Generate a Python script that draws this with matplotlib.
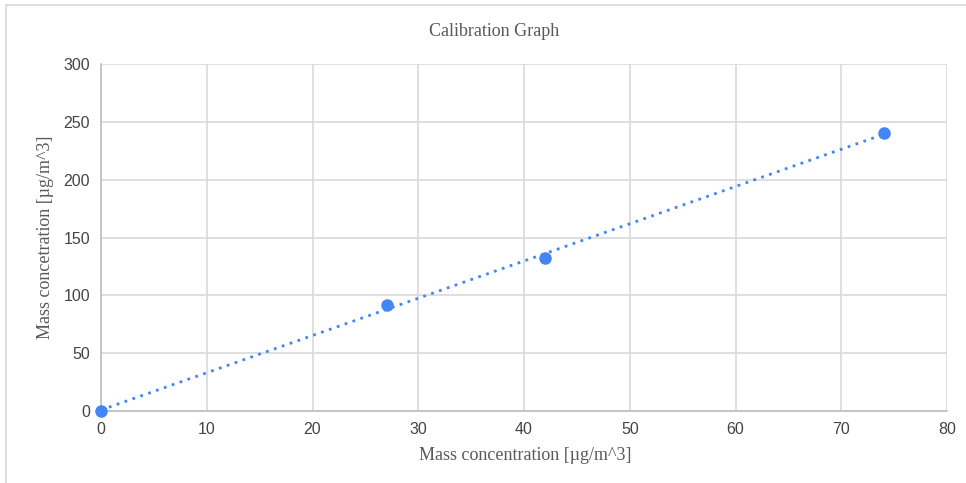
import numpy as np
import matplotlib
matplotlib.use("Agg")
import matplotlib.pyplot as plt
from matplotlib.patches import Rectangle

x_vals = [0, 27, 42, 74]
y_vals = [0, 92, 132, 240]
x_ticks = [0, 10, 20, 30, 40, 50, 60, 70, 80]
y_ticks = [0, 50, 100, 150, 200, 250, 300]
title = "Calibration Graph"
x_label = "Mass concentration [µg/m^3]"
y_label = "Mass concetration [µg/m^3]"

W, H = 966, 483
fig = plt.figure(figsize=(W / 100, H / 100), dpi=100)
fig.patch.set_facecolor("white")
fig.patches.append(Rectangle((6 / W, -0.1), 1.2, 1 - 5 / H + 0.1, transform=fig.transFigure,
                             fill=False, edgecolor="#d9d9d9", linewidth=1.2, zorder=0))

ax = fig.add_axes([101 / W, (H - 411) / H, (947 - 101) / W, (411 - 64) / H])
ax.set_xlim(0, 80)
ax.set_ylim(0, 300)
ax.set_xticks(x_ticks)
ax.set_yticks(y_ticks)
ax.grid(True, color="#d9d9d9", linewidth=1.2)
ax.set_axisbelow(True)
for s in ["top", "right"]:
    ax.spines[s].set_visible(False)
for s in ["left", "bottom"]:
    ax.spines[s].set_color("#bdbdbd")
    ax.spines[s].set_linewidth(1.2)
ax.tick_params(length=0, pad=8, labelsize=11.5, labelcolor="#444444")
for lab in ax.get_xticklabels() + ax.get_yticklabels():
    lab.set_family("Liberation Sans")

xs = np.array(x_vals, dtype=float)
ys = np.array(y_vals, dtype=float)
m, b = np.polyfit(xs, ys, 1)
xl = np.array([xs.min(), xs.max()])
ax.plot(xl, m * xl + b, linestyle=(0, (1, 2)), color="#4285F4", linewidth=2, zorder=3)
ax.plot(xs, ys, "o", color="#4285F4", markersize=8, zorder=4, clip_on=False)

fig.text(494 / W, 1 - 32 / H, title, ha="center", va="center",
         family="Liberation Serif", fontsize=13, color="#595959")
fig.text(525 / W, 1 - 456 / H, x_label, ha="center", va="center",
         family="Liberation Serif", fontsize=13, color="#595959")
fig.text(46 / W, 1 - 237 / H, y_label, ha="center", va="center", rotation=90,
         family="Liberation Serif", fontsize=13, color="#595959")

fig.savefig("out.png", dpi=100)
